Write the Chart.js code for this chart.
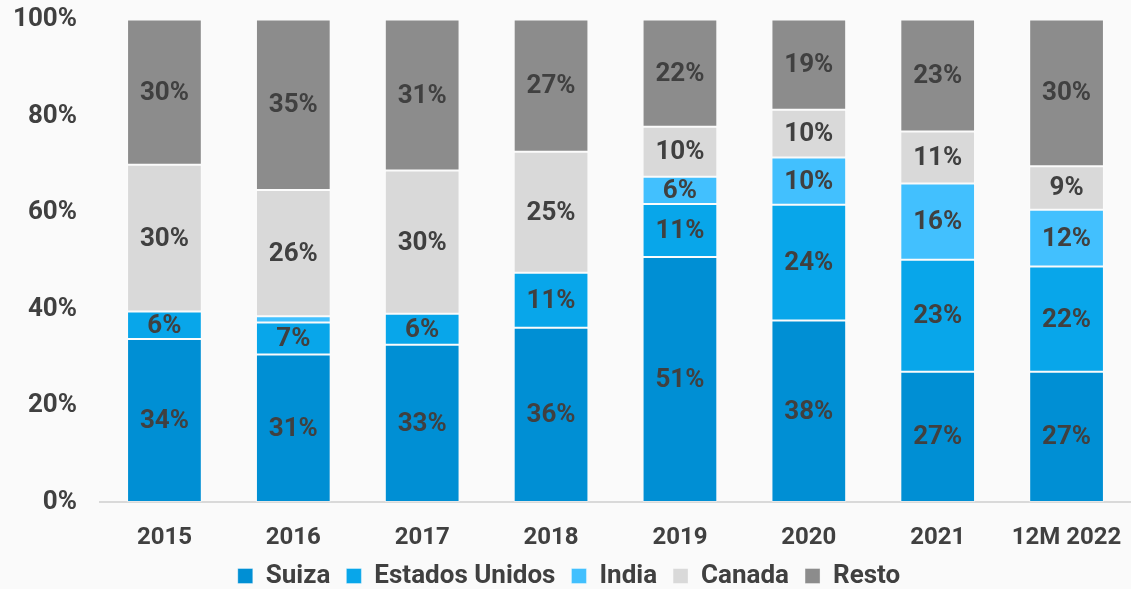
<!DOCTYPE html>
<html>
<head>
<meta charset="utf-8">
<script src="https://cdn.jsdelivr.net/npm/chart.js@4.4.0/dist/chart.umd.min.js"></script>
<style>
  html, body { margin: 0; padding: 0; background: #fafafa; }
  canvas { display: block; }
</style>
</head>
<body>
<canvas id="shareChart" width="1131" height="589"></canvas>
<script>
// Categories and series shares (%)
const years = ['2015', '2016', '2017', '2018', '2019', '2020', '2021', '12M 2022'];
const suiza = [33.8, 30.6, 32.6, 36.1, 50.8, 37.6, 27.0, 27.0];
const estadosUnidos = [5.7, 6.6, 6.4, 11.4, 11.0, 24.0, 23.2, 21.8];
const india = [0, 1.3, 0, 0, 5.6, 9.8, 15.8, 11.8];
const canada = [30.4, 26.2, 29.7, 25.1, 10.4, 9.9, 10.8, 9.0];
const resto = [30.1, 35.3, 31.3, 27.4, 22.2, 18.7, 23.2, 30.4];
const yTicks = [0, 20, 40, 60, 80, 100];

const textColor = '#404040';
const fontFamily = 'Roboto, "Open Sans", sans-serif';

// Draw the percentage inside each segment (skip the tiny ones)
const segmentLabels = {
  id: 'segmentLabels',
  afterDatasetsDraw(chart) {
    const ctx = chart.ctx;
    ctx.save();
    ctx.font = 'bold 26px ' + fontFamily;
    ctx.fillStyle = textColor;
    ctx.textAlign = 'center';
    ctx.textBaseline = 'middle';
    chart.data.datasets.forEach((ds, i) => {
      const meta = chart.getDatasetMeta(i);
      meta.data.forEach((bar, j) => {
        const v = ds.data[j];
        if (v < 3) return;
        ctx.fillText(Math.round(v) + '%', bar.x, (bar.y + bar.base) / 2 + 1);
      });
    });
    ctx.restore();
  }
};

function series(label, data, color) {
  return {
    label: label,
    data: data,
    backgroundColor: color,
    borderColor: 'rgba(255,255,255,0.35)',
    borderWidth: 1,
    borderSkipped: false,
    barPercentage: 0.58,
    categoryPercentage: 1.0
  };
}

function drawChart() {
  new Chart(document.getElementById('shareChart'), {
    type: 'bar',
    data: {
      labels: years,
      datasets: [
        series('Suiza', suiza, '#008fd4'),
        series('Estados Unidos', estadosUnidos, '#08a6ea'),
        series('India', india, '#42c0fe'),
        series('Canada', canada, '#d9d9d9'),
        series('Resto', resto, '#8c8c8c')
      ]
    },
    options: {
      responsive: false,
      animation: false,
      layout: { padding: { top: 0, right: -7, left: 0, bottom: -10 } },
      plugins: {
        tooltip: { enabled: false },
        legend: {
          position: 'bottom',
          labels: {
            boxWidth: 15,
            boxHeight: 15,
            padding: 16,
            color: textColor,
            font: { family: fontFamily, size: 26, weight: 'bold' }
          }
        }
      },
      scales: {
        x: {
          stacked: true,
          grid: { display: false, drawTicks: true, tickLength: 19 },
          border: { color: '#d9d9d9', width: 2 },
          afterFit: axis => { axis.height = 45; },
          ticks: {
            color: textColor,
            padding: 3,
            font: { family: fontFamily, size: 24, weight: 'bold' }
          }
        },
        y: {
          stacked: true,
          min: 0,
          max: 100,
          grid: { display: false, drawTicks: true, tickLength: 19 },
          border: { display: false },
          afterFit: axis => { axis.width = 100; },
          afterBuildTicks: axis => { axis.ticks = yTicks.map(v => ({ value: v })); },
          ticks: {
            color: textColor,
            padding: 4,
            font: { family: fontFamily, size: 26, weight: 'bold' },
            callback: v => v + '%'
          }
        }
      }
    },
    plugins: [segmentLabels]
  });
}

document.fonts.load('bold 24px Roboto').then(drawChart, drawChart);
</script>
</body>
</html>
